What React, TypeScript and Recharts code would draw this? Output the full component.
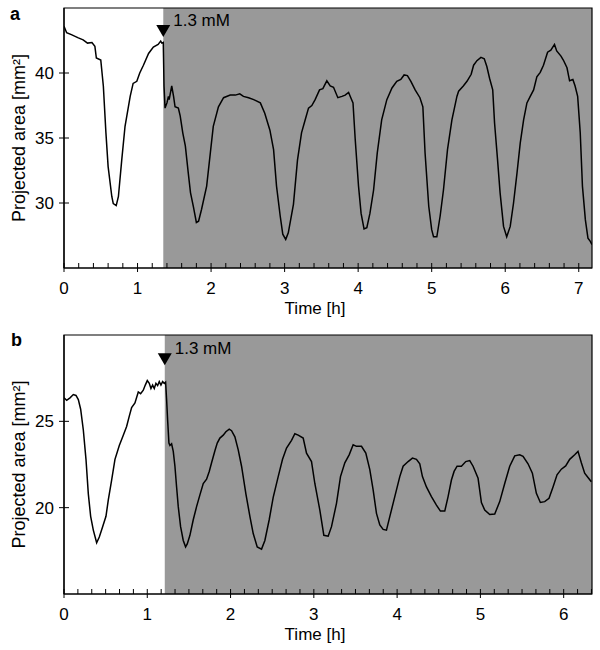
import React from 'react';
import { LineChart, Line, XAxis, YAxis, ReferenceArea, ReferenceDot } from 'recharts';

const FONT = '"Liberation Sans", Arial, Helvetica, sans-serif';

// ---------- Panel a ----------
const timeA = [
  0, 0.036, 0.1, 0.195, 0.26, 0.32, 0.38, 0.42, 0.44, 0.5, 0.535, 0.57, 0.6, 0.65, 0.67, 0.71, 0.74, 0.785,
  0.83, 0.9, 0.94, 0.99, 1.03, 1.08, 1.15, 1.215, 1.28, 1.315, 1.33, 1.35, 1.36, 1.374, 1.4, 1.42, 1.43,
  1.465, 1.49, 1.51, 1.555, 1.58, 1.615, 1.65, 1.69, 1.72, 1.76, 1.8, 1.83, 1.87, 1.94, 1.99, 2.03, 2.1,
  2.17, 2.26, 2.33, 2.39, 2.44, 2.51, 2.58, 2.67, 2.73, 2.8, 2.85, 2.89, 2.94, 2.975, 3.015, 3.05, 3.12,
  3.175, 3.23, 3.28, 3.325, 3.37, 3.415, 3.475, 3.52, 3.574, 3.62, 3.665, 3.724, 3.78, 3.823, 3.87, 3.9,
  3.93, 3.96, 4.005, 4.04, 4.08, 4.118, 4.16, 4.21, 4.26, 4.32, 4.39, 4.46, 4.525, 4.58, 4.625, 4.67,
  4.717, 4.775, 4.84, 4.88, 4.91, 4.96, 5.0, 5.025, 5.07, 5.115, 5.16, 5.215, 5.275, 5.343, 5.366, 5.43,
  5.48, 5.537, 5.57, 5.615, 5.67, 5.715, 5.75, 5.787, 5.83, 5.855, 5.896, 5.93, 5.977, 6.02, 6.068, 6.113,
  6.16, 6.204, 6.25, 6.295, 6.34, 6.386, 6.43, 6.476, 6.52, 6.576, 6.62, 6.67, 6.7, 6.758, 6.79, 6.84,
  6.875, 6.92, 6.95, 6.985, 7.02, 7.05, 7.09, 7.125, 7.157, 7.18,
];
const areaA = [
  43.6, 43.1, 42.95, 42.7, 42.55, 42.3, 42.35, 42.05, 41.15, 41.0, 39.0, 35.4, 32.8, 30.5, 29.95, 29.8, 30.5, 33.3,
  35.9, 38.2, 39.2, 39.36, 40.0, 40.6, 41.5, 42.0, 42.2, 42.45, 42.3, 42.35, 39.0, 37.3, 37.7, 38.2, 37.95,
  39.0, 38.2, 37.4, 37.3, 36.7, 35.4, 34.4, 32.3, 30.8, 29.7, 28.5, 28.6, 29.5, 31.3, 33.85, 35.9, 37.4,
  38.1, 38.3, 38.3, 38.4, 38.2, 38.1, 37.95, 37.7, 36.9, 35.6, 34.1, 31.3, 29.0, 27.6, 27.2, 27.7, 29.9,
  33.3, 35.4, 36.4, 37.3, 37.5, 37.95, 38.7, 38.8, 39.4, 39.0, 38.9, 38.1, 38.2, 38.3, 38.5, 38.1,
  37.7, 34.9, 31.3, 29.2, 28.0, 28.1, 29.2, 31.0, 33.85, 36.4, 37.95, 38.85, 39.36, 39.5, 39.85, 39.8,
  39.36, 38.7, 38.1, 37.4, 33.85, 29.75, 27.95, 27.4, 27.4, 29.0, 31.0, 34.1, 36.4, 38.2, 38.6, 39.0,
  39.36, 39.9, 40.6, 40.95, 41.2, 41.1, 40.5, 39.6, 38.7, 36.15, 33.3, 30.8, 28.2, 27.4, 28.2, 30.0,
  32.3, 34.6, 36.4, 37.7, 38.2, 38.7, 39.7, 40.05, 40.6, 41.6, 41.75, 42.2, 41.7, 41.3, 41.0, 40.4,
  39.4, 39.5, 39.0, 38.2, 35.4, 31.3, 28.7, 27.3, 27.05, 26.8,
];
const yTicksA = [30, 35, 40];
const majorXTicksA = [0, 1, 2, 3, 4, 5, 6, 7];
const minorPerHourA = 5;
const xDomainA: [number, number] = [0, 7.18];
const yDomainA: [number, number] = [25, 45];
const onsetA = 1.35;
const markerTopA = 43.7;

// ---------- Panel b ----------
const timeB = [
  0, 0.032, 0.072, 0.112, 0.144, 0.172, 0.2, 0.232, 0.264, 0.292, 0.32, 0.352, 0.392, 0.424, 0.464, 0.504,
  0.532, 0.572, 0.612, 0.664, 0.712, 0.752, 0.784, 0.812, 0.852, 0.892, 0.92, 0.952, 0.976, 1.0, 1.024,
  1.044, 1.064, 1.084, 1.104, 1.124, 1.144, 1.164, 1.184, 1.204, 1.22, 1.232, 1.244, 1.26, 1.272, 1.292,
  1.312, 1.332, 1.352, 1.372, 1.4, 1.432, 1.46, 1.48, 1.512, 1.552, 1.592, 1.632, 1.672, 1.712, 1.744,
  1.772, 1.812, 1.84, 1.872, 1.912, 1.944, 1.984, 2.012, 2.052, 2.092, 2.132, 2.184, 2.232, 2.272, 2.32,
  2.372, 2.412, 2.464, 2.512, 2.572, 2.624, 2.672, 2.732, 2.772, 2.812, 2.872, 2.912, 2.972, 3.012, 3.072,
  3.12, 3.172, 3.212, 3.272, 3.32, 3.372, 3.424, 3.472, 3.512, 3.572, 3.624, 3.672, 3.712, 3.752, 3.792,
  3.832, 3.872, 3.912, 3.972, 4.032, 4.072, 4.132, 4.184, 4.232, 4.272, 4.304, 4.352, 4.412, 4.472, 4.52,
  4.572, 4.612, 4.652, 4.684, 4.72, 4.772, 4.824, 4.872, 4.912, 4.972, 5.012, 5.052, 5.112, 5.172, 5.232,
  5.292, 5.352, 5.412, 5.472, 5.512, 5.572, 5.624, 5.672, 5.72, 5.772, 5.824, 5.872, 5.92, 5.972, 6.024,
  6.072, 6.132, 6.172, 6.212, 6.252, 6.292, 6.332,
];
const areaB = [
  26.36, 26.22, 26.36, 26.55, 26.5, 26.26, 25.7, 24.5, 22.8, 20.8, 19.5, 18.7, 17.97, 18.3, 18.9, 19.5,
  20.45, 21.6, 22.8, 23.6, 24.2, 24.7, 25.3, 25.8, 26.07, 26.7, 26.6, 26.8, 27.1, 27.36, 27.2,
  26.9, 27.1, 26.9, 27.2, 27.07, 27.3, 27.1, 27.3, 27.2, 27.27, 26.26, 25.1, 23.74, 23.6, 23.7,
  23.26, 22.4, 21.2, 20.06, 18.9, 18.1, 17.73, 17.9, 18.4, 19.3, 20.06, 20.74, 21.4, 21.65, 22.1,
  22.6, 23.3, 23.74, 24.03, 24.2, 24.4, 24.55, 24.46, 24.1, 23.35, 22.4, 20.8, 19.5, 18.5, 17.73,
  17.6, 18.1, 19.3, 20.6, 21.8, 22.8, 23.45, 23.9, 24.28, 24.2, 24.03, 23.16, 22.67, 21.4, 19.86,
  18.4, 18.35, 18.9, 20.25, 21.8, 22.6, 23.06, 23.64, 23.55, 23.55, 23.16, 22.2, 21.03, 19.67, 19.0,
  18.74, 18.7, 19.48, 20.64, 21.8, 22.4, 22.67, 22.87, 22.8, 22.54, 21.8, 21.2, 20.64, 20.15, 19.8,
  19.8, 20.64, 21.6, 22.1, 22.4, 22.4, 22.67, 22.73, 22.4, 21.7, 20.3, 19.86, 19.6, 19.63, 20.35,
  21.4, 22.4, 23.0, 23.06, 22.97, 22.54, 22.0, 20.83, 20.3, 20.35, 20.54, 21.2, 21.9, 22.23, 22.42,
  22.8, 23.06, 23.26, 22.6, 22.0, 21.75, 21.5,
];
const yTicksB = [20, 25];
const majorXTicksB = [0, 1, 2, 3, 4, 5, 6];
const minorPerHourB = 6;
const xDomainB: [number, number] = [0, 6.34];
const yDomainB: [number, number] = [15, 30];
const onsetB = 1.21;
const markerTopB = 28.95;

const doseLabel = '1.3 mM';
const xTitle = 'Time [h]';
const yTitle = 'Projected area [mm\u00B2]';

const FS = 17;

const buildTicks = (max: number, perHour: number) => {
  const out: number[] = [];
  for (let k = 0; k / perHour <= max + 1e-9; k++) out.push(k / perHour);
  return out;
};

const isMajor = (v: number, majors: number[]) => majors.some((m) => Math.abs(m - v) < 1e-6);

const makeXTick = (majors: number[]) => (props: any) => {
  const { x, y, payload } = props;
  const v = payload.value as number;
  const major = isMajor(v, majors);
  return (
    <g>
      <line x1={x} x2={x} y1={y} y2={y - 5} stroke="#000" strokeWidth={1} />
      {major && <line x1={x} x2={x} y1={y} y2={y + 4} stroke="#000" strokeWidth={1} />}
      {major && (
        <text x={x} y={y + 26} textAnchor="middle" fontSize={FS} fontFamily={FONT} fill="#000">
          {Math.round(v)}
        </text>
      )}
    </g>
  );
};

const YTick = (props: any) => {
  const { x, y, payload } = props;
  return (
    <g>
      <line x1={x - 5} x2={x + 5} y1={y} y2={y} stroke="#000" strokeWidth={1} />
      <text x={x - 10} y={y} dy="0.36em" textAnchor="end" fontSize={FS} fontFamily={FONT} fill="#000">
        {payload.value}
      </text>
    </g>
  );
};

const makeXTitle = (dy: number) => (props: any) => {
  const vb = props.viewBox;
  return (
    <text x={vb.x + vb.width / 2 - 13} y={vb.y + dy} textAnchor="middle" fontSize={FS} fontFamily={FONT} fill="#000">
      {xTitle}
    </text>
  );
};

const YTitle = (props: any) => {
  const vb = props.viewBox;
  const cx = vb.x + 25;
  const cy = vb.y + vb.height / 2;
  return (
    <text x={cx} y={cy} textAnchor="middle" fontSize={18} fontFamily={FONT} fill="#000" transform={`rotate(-90 ${cx} ${cy})`}>
      {yTitle}
    </text>
  );
};

const Marker = (props: any) => {
  const { cx, cy } = props;
  return (
    <g>
      <path d={`M${cx - 7},${cy} L${cx + 7},${cy} L${cx},${cy + 12} Z`} fill="#000" />
      <text x={cx + 10} y={cy + 1} fontSize={FS} fontFamily={FONT} fill="#000">
        {doseLabel}
      </text>
    </g>
  );
};

type PanelProps = {
  time: number[];
  area: number[];
  xDomain: [number, number];
  yDomain: [number, number];
  yTicks: number[];
  majors: number[];
  perHour: number;
  onset: number;
  markerTop: number;
  height: number;
  top: number;
  xAxisHeight: number;
  titleDy: number;
};

const Panel = (p: PanelProps) => {
  const data = p.time.map((t, i) => ({ t, v: p.area[i] }));
  const ticks = buildTicks(p.xDomain[1], p.perHour);
  return (
    <LineChart width={600} height={p.height} data={data} margin={{ top: p.top, right: 8, bottom: 0, left: 0 }}>
      <XAxis
        dataKey="t"
        type="number"
        domain={p.xDomain}
        ticks={ticks}
        interval={0}
        tickSize={0}
        tickMargin={0}
        tickLine={false}
        axisLine={{ stroke: '#000', strokeWidth: 1.2 }}
        tick={makeXTick(p.majors)}
        height={p.xAxisHeight}
        allowDataOverflow
        label={makeXTitle(p.titleDy)}
      />
      <YAxis
        type="number"
        domain={p.yDomain}
        ticks={p.yTicks}
        interval={0}
        tickSize={0}
        tickMargin={0}
        tickLine={false}
        axisLine={{ stroke: '#000', strokeWidth: 1.2 }}
        tick={YTick}
        width={64}
        allowDataOverflow
        label={YTitle}
      />
      <ReferenceArea x1={p.onset} x2={p.xDomain[1]} y1={p.yDomain[0]} y2={p.yDomain[1]} fill="#999999" fillOpacity={1} stroke="none" />
      <Line type="linear" dataKey="v" stroke="#000" strokeWidth={1.5} dot={false} isAnimationActive={false} />
      <ReferenceArea x1={p.xDomain[0]} x2={p.xDomain[1]} y1={p.yDomain[0]} y2={p.yDomain[1]} fill="none" stroke="#000" strokeWidth={1.2} />
      <ReferenceDot x={p.onset} y={p.markerTop} r={0} shape={Marker} ifOverflow="visible" />
    </LineChart>
  );
};

const letterStyle: React.CSSProperties = {
  position: 'absolute',
  fontFamily: FONT,
  fontWeight: 'bold',
  fontSize: 18,
  lineHeight: '18px',
  color: '#000',
};

export default function App() {
  return (
    <div style={{ position: 'absolute', left: 0, top: 0, width: 600, height: 650, background: '#fff' }}>
      <div style={{ position: 'absolute', left: 0, top: 0 }}>
        <Panel
          time={timeA}
          area={areaA}
          xDomain={xDomainA}
          yDomain={yDomainA}
          yTicks={yTicksA}
          majors={majorXTicksA}
          perHour={minorPerHourA}
          onset={onsetA}
          markerTop={markerTopA}
          height={320}
          top={8}
          xAxisHeight={52}
          titleDy={46}
        />
      </div>
      <div style={{ position: 'absolute', left: 0, top: 320 }}>
        <Panel
          time={timeB}
          area={areaB}
          xDomain={xDomainB}
          yDomain={yDomainB}
          yTicks={yTicksB}
          majors={majorXTicksB}
          perHour={minorPerHourB}
          onset={onsetB}
          markerTop={markerTopB}
          height={330}
          top={15}
          xAxisHeight={56}
          titleDy={46}
        />
      </div>
      <div style={{ ...letterStyle, left: 10, top: 5 }}>a</div>
      <div style={{ ...letterStyle, left: 11, top: 331 }}>b</div>
    </div>
  );
}
